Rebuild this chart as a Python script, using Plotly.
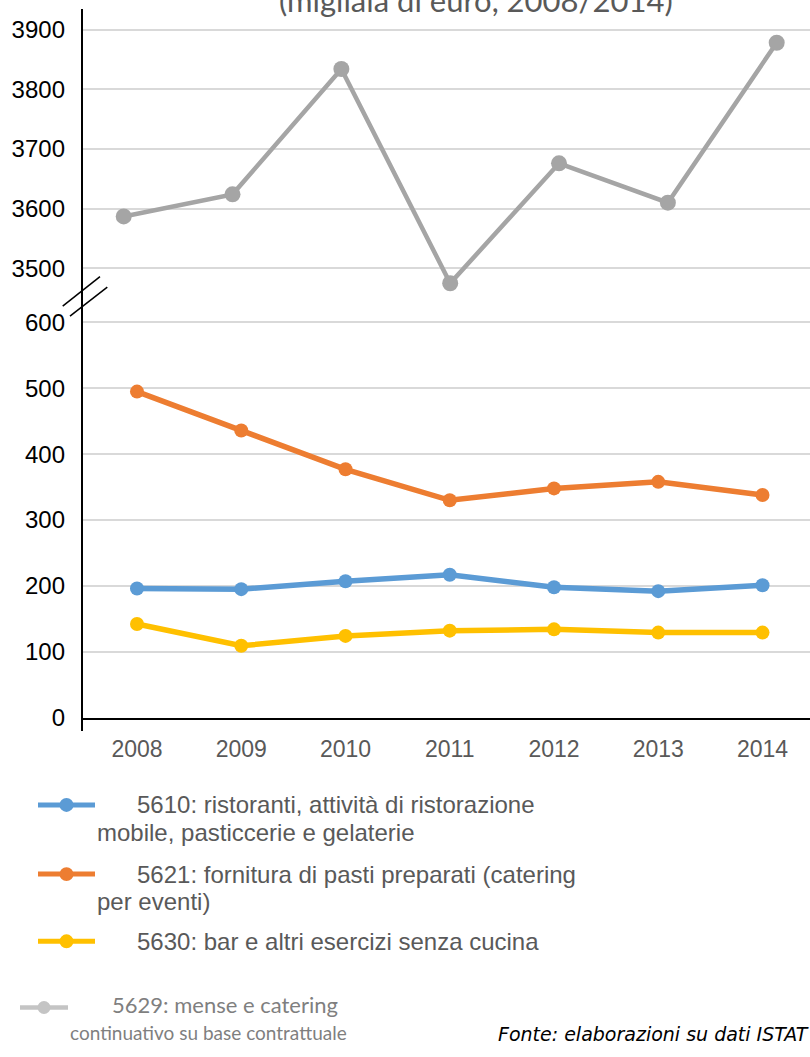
import plotly.graph_objects as go

# ---------------- data ----------------
years = [2008, 2009, 2010, 2011, 2012, 2013, 2014]
s5610 = [196, 195, 207, 217, 198, 192, 201]
s5621 = [495, 436, 377, 330, 348, 358, 338]
s5630 = [142, 109, 124, 132, 134, 129, 129]
s5629 = [3587, 3624, 3834, 3475, 3676, 3610, 3878]
low_ticks = [0, 100, 200, 300, 400, 500, 600]
high_ticks = [3500, 3600, 3700, 3800, 3900]

names = ["5610: ristoranti, attività di ristorazione mobile, pasticcerie e gelaterie",
         "5621: fornitura di pasti preparati (catering per eventi)",
         "5630: bar e altri esercizi senza cucina",
         "5629: mense e catering continuativo su base contrattuale"]

BLUE, ORANGE, YELLOW, GRAY = "#5B9BD5", "#ED7D31", "#FFC000", "#A5A5A5"

W, H = 810, 1057
def X(px): return px / W
def Y(py): return 1 - py / H

# pixel layout
AX_L = 82
LOW_BOT, LOW_TOP = 726.5, 300
HIGH_BOT, HIGH_TOP = 300, 9
low_ppu = (726.5 - 326.5) / 600.0
high_ppu = (271.7 - 30.0) / 400.0
low_rng = [0, 600 + (326.5 - LOW_TOP) / low_ppu]
high_rng = [3500 - (HIGH_BOT - 271.7) / high_ppu, 3900 + (30.0 - HIGH_TOP) / high_ppu]

x1_ppu = (762.5 - 137.0) / 6
x1_rng = [2008 - (137.0 - AX_L) / x1_ppu, 2014 + (W - 762.5) / x1_ppu]
x2_ppu = (776.7 - 123.7) / 6
x2_rng = [2008 - (123.7 - AX_L) / x2_ppu, 2014 + (W - 776.7) / x2_ppu]

fig = go.Figure()
for vals, col, nm in [(s5610, BLUE, names[0]), (s5621, ORANGE, names[1]), (s5630, YELLOW, names[2])]:
    fig.add_trace(go.Scatter(x=years, y=vals, mode="lines+markers", name=nm,
                             line=dict(color=col, width=5.5),
                             marker=dict(color=col, size=14),
                             xaxis="x", yaxis="y", showlegend=False))
fig.add_trace(go.Scatter(x=years, y=s5629, mode="lines+markers", name=names[3],
                         line=dict(color=GRAY, width=4.5),
                         marker=dict(color=GRAY, size=16),
                         xaxis="x2", yaxis="y2", showlegend=False))

tickfont_y = dict(family="Liberation Sans, Arial", size=24, color="#000000")
fig.update_layout(
    width=W, height=H, autosize=False,
    margin=dict(l=0, r=0, t=0, b=0),
    paper_bgcolor="white", plot_bgcolor="white",
    xaxis=dict(domain=[X(AX_L), 1], range=x1_rng, tickvals=years,
               ticktext=[str(y) for y in years], showgrid=False, zeroline=False,
               showline=True, linecolor="#000000", linewidth=2, ticks="",
               ticklabelstandoff=10,
               tickfont=dict(family="Liberation Sans, Arial", size=23, color="#595959")),
    yaxis=dict(domain=[Y(LOW_BOT), Y(LOW_TOP)], range=low_rng, tickvals=low_ticks,
               showgrid=True, gridcolor="#D9D9D9", gridwidth=2, zeroline=False,
               showline=False, ticks="", ticklabelstandoff=16, tickfont=tickfont_y),
    xaxis2=dict(domain=[X(AX_L), 1], range=x2_rng, overlaying="x", visible=False),
    yaxis2=dict(domain=[Y(HIGH_BOT), Y(HIGH_TOP)], range=high_rng, tickvals=high_ticks,
                anchor="x2", showgrid=True, gridcolor="#D9D9D9", gridwidth=2,
                zeroline=False, showline=False, ticks="", ticklabelstandoff=16,
                tickfont=tickfont_y),
)

shapes = []
# vertical axis line (continuous through break)
shapes.append(dict(type="line", xref="paper", yref="paper", x0=X(AX_L), x1=X(AX_L),
                   y0=Y(740), y1=Y(9), line=dict(color="#000000", width=2)))
# break marks
shapes.append(dict(type="line", xref="paper", yref="paper", x0=X(62.7), y0=Y(310),
                   x1=X(100), y1=Y(280), line=dict(color="#000000", width=1.5)))
shapes.append(dict(type="line", xref="paper", yref="paper", x0=X(70), y0=Y(320),
                   x1=X(107.3), y1=Y(290.7), line=dict(color="#000000", width=1.5)))

# legend glyphs
def glyph(x0, x1, yc, col, lw, r):
    xm = (x0 + x1) / 2
    shapes.append(dict(type="line", xref="paper", yref="paper", x0=X(x0), x1=X(x1),
                       y0=Y(yc), y1=Y(yc), line=dict(color=col, width=lw)))
    shapes.append(dict(type="circle", xref="paper", yref="paper",
                       x0=X(xm - r), x1=X(xm + r), y0=Y(yc + r), y1=Y(yc - r),
                       fillcolor=col, line=dict(color=col, width=0)))

glyph(38, 95, 815, BLUE, 5, 7)
glyph(38, 95, 885, ORANGE, 5, 7)
glyph(38, 95, 953, YELLOW, 5, 7)
glyph(20, 68, 1020, "#C4C4C4", 4.5, 6.5)
fig.update_layout(shapes=shapes)

ann = []
def txt(s, x, y, size=24, color="#595959", family="Liberation Sans, Arial", italic=False,
        xanchor="left"):
    ann.append(dict(text=s, x=X(x), y=Y(y), xref="paper", yref="paper", showarrow=False,
                    xanchor=xanchor, yanchor="middle",
                    font=dict(size=size, color=color, family=family,
                              style="italic" if italic else "normal")))

txt("5610: ristoranti, attività di ristorazione", 135, 815)
txt("mobile, pasticcerie e gelaterie", 95, 843)
txt("5621: fornitura di pasti preparati (catering", 135, 885)
txt("per eventi)", 95, 913)
txt("5630: bar e altri esercizi senza cucina", 135, 953)
txt("5629: mense e catering", 110, 1017, size=22, color="#7F7F7F", family="Lato")
txt("continuativo su base contrattuale", 68, 1045, size=19, color="#7F7F7F", family="Lato")
txt("Fonte: elaborazioni su dati ISTAT", 496, 1047, size=19, color="#000000",
    family="DejaVu Sans", italic=True)
# cut-off title
ann.append(dict(text="(migliaia di euro, 2008/2014)", x=X(476), y=Y(21), xref="paper",
                yref="paper", showarrow=False, xanchor="center", yanchor="bottom",
                font=dict(size=31, color="#595959", family="Lato")))
fig.update_layout(annotations=ann)

fig.write_html("out.html")
